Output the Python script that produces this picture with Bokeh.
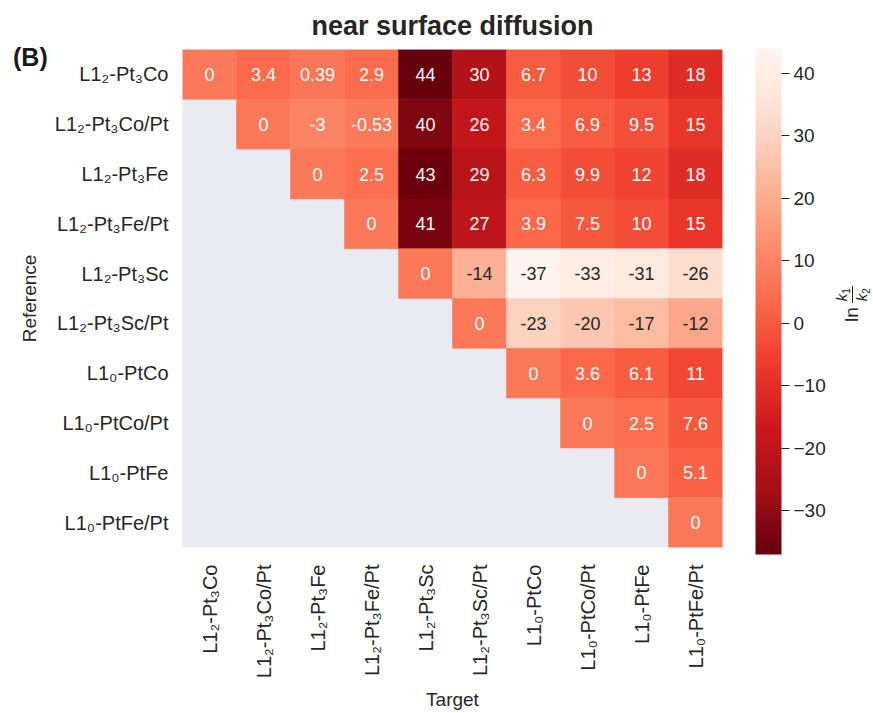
import math
from bokeh.plotting import figure
from bokeh.layouts import column
from bokeh.models import (ColumnDataSource, LinearColorMapper, ColorBar, FixedTicker,
                          CustomJSTickFormatter, FactorRange, Div)
from bokeh.palettes import Reds256
from bokeh.core.properties import value
from bokeh.embed import file_html
from bokeh.resources import INLINE

# ---------------- data ----------------
names = ["L1₂-Pt₃Co", "L1₂-Pt₃Co/Pt", "L1₂-Pt₃Fe", "L1₂-Pt₃Fe/Pt", "L1₂-Pt₃Sc",
         "L1₂-Pt₃Sc/Pt", "L1₀-PtCo", "L1₀-PtCo/Pt", "L1₀-PtFe", "L1₀-PtFe/Pt"]

# upper-triangle rows (starting at the diagonal)
row0 = [0, 3.4, 0.39, 2.9, 44, 30, 6.7, 10, 13, 18]
row1 = [0, -3, -0.53, 40, 26, 3.4, 6.9, 9.5, 15]
row2 = [0, 2.5, 43, 29, 6.3, 9.9, 12, 18]
row3 = [0, 41, 27, 3.9, 7.5, 10, 15]
row4 = [0, -14, -37, -33, -31, -26]
row5 = [0, -23, -20, -17, -12]
row6 = [0, 3.6, 6.1, 11]
row7 = [0, 2.5, 7.6]
row8 = [0, 5.1]
row9 = [0]
rows_vals = [row0, row1, row2, row3, row4, row5, row6, row7, row8, row9]

cbar_ticks = [-30, -20, -10, 0, 10, 20, 30, 40]

FONT = "Liberation Sans"
TXT = "#262626"

# ---------------- build table ----------------
xs, ys, vals, labels = [], [], [], []
for i, rv in enumerate(rows_vals):
    for k, v in enumerate(rv):
        xs.append(names[i + k])
        ys.append(names[i])
        vals.append(v)
        labels.append(format(v, ".2g"))

vmin, vmax = min(vals), max(vals)
cell_pal = list(Reds256)[::-1]   # light for low values, dark for high values
cbar_pal = list(Reds256)         # colour bar drawn dark at bottom, light at top


def lum(hexc):
    c = [int(hexc[j:j + 2], 16) / 255 for j in (1, 3, 5)]
    c = [x / 12.92 if x <= 0.03928 else ((x + 0.055) / 1.055) ** 2.4 for x in c]
    return 0.2126 * c[0] + 0.7152 * c[1] + 0.0722 * c[2]


tcolors = []
for v in vals:
    idx = int((v - vmin) / (vmax - vmin) * 256)
    idx = max(0, min(255, idx))
    tcolors.append(TXT if lum(cell_pal[idx]) > 0.408 else "#ffffff")

src = ColumnDataSource(dict(x=xs, y=ys, v=vals, lab=labels, tc=tcolors))

cell_mapper = LinearColorMapper(palette=cell_pal, low=vmin, high=vmax)
cbar_mapper = LinearColorMapper(palette=cbar_pal, low=vmin, high=vmax)

p = figure(width=873, height=713,
           x_range=FactorRange(factors=names),
           y_range=FactorRange(factors=names[::-1]),
           output_backend="svg", toolbar_location=None,
           min_border_left=182, min_border_right=151,
           min_border_top=49, min_border_bottom=158)

p.background_fill_color = "#eaeaf2"
p.border_fill_color = "white"
p.outline_line_color = None
p.grid.grid_line_color = None

p.rect(x="x", y="y", width=1, height=1, source=src,
       fill_color={"field": "v", "transform": cell_mapper},
       line_color={"field": "v", "transform": cell_mapper}, line_width=0.5)
p.text(x="x", y="y", text="lab", source=src, text_align="center",
       text_baseline="middle", text_color="tc", text_font_size="18px",
       text_font=value(FONT))

# title
p.title.text = "near surface diffusion"
p.title.align = "center"
p.title.text_font = FONT
p.title.text_font_size = "27px"
p.title.text_font_style = "bold"
p.title.text_color = TXT
p.title.standoff = 17

# axes
for ax in (p.xaxis, p.yaxis):
    ax.axis_line_color = None
    ax.major_tick_line_color = None
    ax.minor_tick_line_color = None
    ax.major_label_text_font = FONT
    ax.major_label_text_font_size = "20px"
    ax.major_label_text_color = TXT
    ax.axis_label_text_font = FONT
    ax.axis_label_text_font_size = "19px"
    ax.axis_label_text_font_style = "normal"
    ax.axis_label_text_color = TXT
p.xaxis.axis_label_standoff = 8
p.yaxis.axis_label_standoff = 12
p.yaxis.major_label_standoff = 8
p.xaxis.major_label_standoff = 11
p.xaxis.axis_label = "Target"
p.yaxis.axis_label = "Reference"
p.xaxis.major_label_orientation = math.pi / 2

# colour bar
cb = ColorBar(color_mapper=cbar_mapper, ticker=FixedTicker(ticks=cbar_ticks),
              formatter=CustomJSTickFormatter(code="return tick < 0 ? '\u2212' + Math.abs(tick) : String(tick)"),
              width=26, height=506, padding=0, margin=0, location=(33, -7),
              major_tick_in=0, major_tick_out=8, major_tick_line_color=TXT,
              major_label_text_font=FONT, major_label_text_font_size="19px",
              major_label_text_color=TXT, label_standoff=4,
              bar_line_color=None, border_line_color=None,
              background_fill_color=None)
p.add_layout(cb, "right")

# colour-bar label: ln (k1 / k2), rotated, laid over the figure
sub = "<span style='font-size:10px;font-style:normal;position:relative;top:3px'>%s</span>"
frac = ("<span style='display:inline-flex;flex-direction:column;align-items:center;"
        "font-size:15px;font-style:italic;line-height:15px;margin-left:4px'>"
        "<span style='border-bottom:1.2px solid %s;padding:0 2px 1px 2px'>k" + sub % "1" + "</span>"
        "<span style='padding-top:1px'>k" + sub % "2" + "</span></span>") % TXT
cb_html = ("<div style='width:70px;height:60px;display:flex;align-items:center;"
           "justify-content:center;font-family:\"Liberation Sans\";font-size:19px;color:%s'>"
           "<span>ln</span>%s</div>") % (TXT, frac)
cb_label = Div(text=cb_html, width=70, height=60, margin=0,
               styles={"position": "absolute", "left": "817px", "top": "274px",
                       "transform": "rotate(-90deg)", "transform-origin": "35px 30px"})

# panel letter, laid over the top-left corner of the figure
letter = Div(text="(B)", width=60, height=34, margin=0,
             styles={"position": "absolute", "left": "13px", "top": "42px",
                     "font-family": FONT, "font-size": "25px", "font-weight": "bold",
                     "color": "#1a1a1a", "line-height": "30px"})

layout = column(p, letter, cb_label, spacing=0)

open("out.html", "w").write(file_html(layout, INLINE))
